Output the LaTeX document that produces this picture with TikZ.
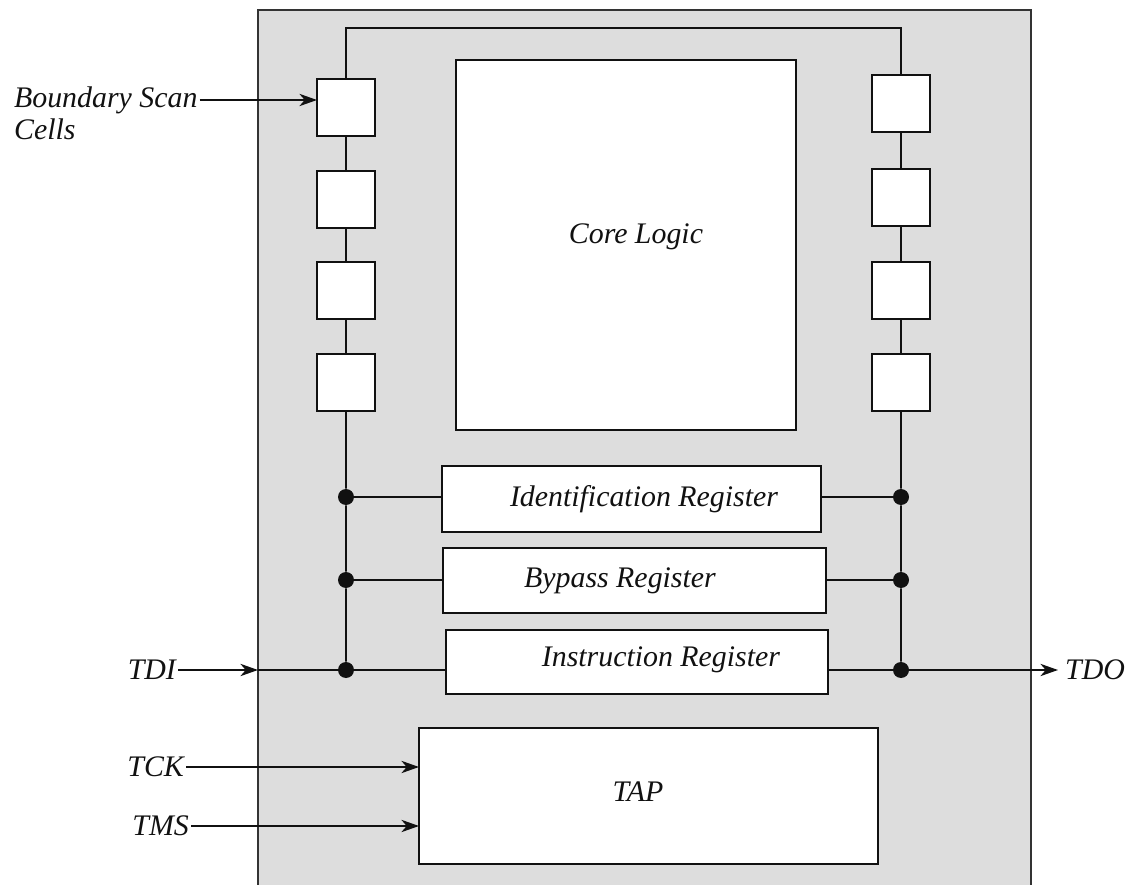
\documentclass[tikz,border=0pt]{standalone}
\usepackage{fontspec}
\setmainfont{Liberation Serif}
\usetikzlibrary{positioning,arrows.meta,calc}
\definecolor{ink}{HTML}{111111}
\definecolor{chipbg}{HTML}{DDDDDD}
\definecolor{chipedge}{HTML}{333333}
\newcommand{\lbl}{\itshape\fontsize{17}{19}\selectfont}
\tikzset{
  sig/.style={-{Stealth[length=10pt,width=7pt,inset=3pt]}, line width=1pt, color=ink},
  wire/.style={line width=1pt, color=ink},
  cell/.style={draw=ink, fill=white, line width=1pt, minimum width=1.16cm,
    minimum height=1.14cm, inner sep=0pt, outer sep=0pt, anchor=north west},
  blk/.style={draw=ink, fill=white, line width=1pt, inner sep=0pt, outer sep=0pt,
    anchor=north west},
  lab/.style={font=\lbl, text=ink},
  jn/.style={circle, fill=ink, minimum size=0.32cm, inner sep=0pt},
  pin/.style={font=\lbl, text=ink, inner sep=1pt},
}
\begin{document}
\begin{tikzpicture}[x=0.02cm,y=-0.02cm]
  \useasboundingbox (0,0) rectangle (1130,885);
  % chip body, open at the bottom
  \fill[chipbg] (258,10) rectangle (1031,895);
  \draw[line width=1.3pt, chipedge] (258,895) -- (258,10) -- (1031,10) -- (1031,895);

  % boundary scan cells
  \foreach \y [count=\i] in {79,171,262,354}
    \node[cell] (l\i) at (317,\y) {};
  \foreach \y [count=\i] in {75,169,262,354}
    \node[cell] (r\i) at (872,\y) {};

  % core and registers
  \node[blk, minimum width=6.8cm, minimum height=7.4cm,
    label={[lab,xshift=0.2cm,yshift=0.16cm]center:Core Logic}] (core) at (456,60) {};
  \node[blk, minimum width=7.58cm, minimum height=1.32cm,
    label={[lab,xshift=0.25cm]center:Identification Register}] (idreg) at (442,466) {};
  \node[blk, minimum width=7.66cm, minimum height=1.3cm,
    label={[lab,xshift=-0.29cm]center:Bypass Register}] (bpreg) at (443,548) {};
  \node[blk, minimum width=7.64cm, minimum height=1.28cm,
    label={[lab,xshift=0.48cm,yshift=0.04cm]center:Instruction Register}] (irreg) at (446,630) {};
  \node[blk, minimum width=9.18cm, minimum height=2.72cm,
    label={[lab,xshift=-0.21cm,yshift=0.08cm]center:TAP}] (tap) at (419,728) {};

  % junctions
  \foreach \y [count=\i] in {497,580,670} {
    \node[jn] (jl\i) at (346,\y) {};
    \node[jn] (jr\i) at (901,\y) {};
  }

  % scan chain
  \coordinate (top) at (346,28);
  \draw[wire] (l1.north) -- (l1.north |- top) -| (r1.north);
  \draw[wire] (l1) -- (l2) -- (l3) -- (l4) -- (jl1) -- (jl2) -- (jl3);
  \draw[wire] (r1) -- (r2) -- (r3) -- (r4) -- (jr1) -- (jr2) -- (jr3);
  \draw[wire] (jl1) -- (jl1 -| idreg.west);
  \draw[wire] (jr1) -- (jr1 -| idreg.east);
  \draw[wire] (jl2) -- (jl2 -| bpreg.west);
  \draw[wire] (jr2) -- (jr2 -| bpreg.east);

  % pins
  \node[pin, anchor=west] (bsc) at (12,100) {Boundary Scan};
  \node[pin, anchor=west] (bsc2) at (12,129) {Cells};
  \draw[sig] (bsc.east) -- (bsc.east -| l1.west);

  \node[pin, anchor=east] (tdi) at (178,670) {TDI};
  \coordinate (tdipin) at (258,670);
  \draw[sig] (tdi) -- (tdipin);
  \draw[wire] (tdipin) -- (jl3) -- (jl3 -| irreg.west);
  \draw[wire] (irreg.east |- jr3) -- (jr3);
  \coordinate (tdopin) at (1058,670);
  \draw[sig] (jr3) -- (tdopin);
  \node[pin, anchor=west, inner sep=0.5pt] (tdo) at (1064,670) {TDO};

  \node[pin, anchor=east] (tck) at (186,767) {TCK};
  \draw[sig] (tck) -- (tck -| tap.west);
  \node[pin, anchor=east] (tms) at (191,826) {TMS};
  \draw[sig] (tms) -- (tms -| tap.west);
\end{tikzpicture}
\end{document}
